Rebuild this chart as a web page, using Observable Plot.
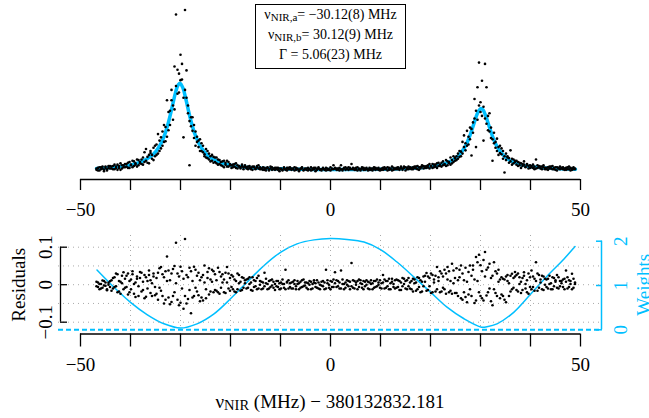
<!DOCTYPE html>
<html><head><meta charset="utf-8">
<script src="https://cdn.jsdelivr.net/npm/d3@7"></script>
<script src="https://cdn.jsdelivr.net/npm/@observablehq/plot@0.6"></script>
<style>
body{margin:0;background:#fff;}
#wrap{position:relative;width:649px;height:418px;overflow:hidden;font-family:"Liberation Serif","Times New Roman",serif;color:#000;}
#wrap svg{position:absolute;left:0;}
.legend{position:absolute;left:255px;top:4px;width:151px;height:65px;box-sizing:border-box;border:1.2px solid #000;text-align:center;font-size:14px;line-height:20px;white-space:nowrap;}
.sub{font-size:11px;position:relative;top:2px;}
.xtitle{position:absolute;left:0;top:390px;width:660px;text-align:center;font-size:19px;line-height:24px;white-space:nowrap;}
.xsub{font-size:14.5px;position:relative;top:2px;}
</style></head><body><div id="wrap"></div>
<script>
// frequency offset (MHz) of each measured point (same grid for both scans)
const freq = [
-46.8,-46.5,-46.2,-45.9,-45.6,-45.3,-45,-44.7,-44.4,-44.1,
-43.8,-43.5,-43.2,-42.9,-42.6,-42.3,-42,-41.7,-41.4,-41.1,
-40.8,-40.5,-40.2,-39.9,-39.6,-39.3,-39,-38.7,-38.4,-38.1,
-37.8,-37.5,-37.2,-36.9,-36.6,-36.3,-36,-35.7,-35.4,-35.1,
-34.8,-34.5,-34.2,-33.9,-33.6,-33.3,-33,-32.7,-32.4,-32.1,
-31.8,-31.5,-31.2,-30.9,-30.6,-30.3,-30,-29.7,-29.4,-29.1,
-28.8,-28.5,-28.2,-27.9,-27.6,-27.3,-27,-26.7,-26.4,-26.1,
-25.8,-25.5,-25.2,-24.9,-24.6,-24.3,-24,-23.7,-23.4,-23.1,
-22.8,-22.5,-22.2,-21.9,-21.6,-21.3,-21,-20.7,-20.4,-20.1,
-19.8,-19.5,-19.2,-18.9,-18.6,-18.3,-18,-17.7,-17.4,-17.1,
-16.8,-16.5,-16.2,-15.9,-15.6,-15.3,-15,-14.7,-14.4,-14.1,
-13.8,-13.5,-13.2,-12.9,-12.6,-12.3,-12,-11.7,-11.4,-11.1,
-10.8,-10.5,-10.2,-9.9,-9.6,-9.3,-9,-8.7,-8.4,-8.1,
-7.8,-7.5,-7.2,-6.9,-6.6,-6.3,-6,-5.7,-5.4,-5.1,
-4.8,-4.5,-4.2,-3.9,-3.6,-3.3,-3,-2.7,-2.4,-2.1,
-1.8,-1.5,-1.2,-0.9,-0.6,-0.3,0,0.3,0.6,0.9,
1.2,1.5,1.8,2.1,2.4,2.7,3,3.3,3.6,3.9,
4.2,4.5,4.8,5.1,5.4,5.7,6,6.3,6.6,6.9,
7.2,7.5,7.8,8.1,8.4,8.7,9,9.3,9.6,9.9,
10.2,10.5,10.8,11.1,11.4,11.7,12,12.3,12.6,12.9,
13.2,13.5,13.8,14.1,14.4,14.7,15,15.3,15.6,15.9,
16.2,16.5,16.8,17.1,17.4,17.7,18,18.3,18.6,18.9,
19.2,19.5,19.8,20.1,20.4,20.7,21,21.3,21.6,21.9,
22.2,22.5,22.8,23.1,23.4,23.7,24,24.3,24.6,24.9,
25.2,25.5,25.8,26.1,26.4,26.7,27,27.3,27.6,27.9,
28.2,28.5,28.8,29.1,29.4,29.7,30,30.3,30.6,30.9,
31.2,31.5,31.8,32.1,32.4,32.7,33,33.3,33.6,33.9,
34.2,34.5,34.8,35.1,35.4,35.7,36,36.3,36.6,36.9,
37.2,37.5,37.8,38.1,38.4,38.7,39,39.3,39.6,39.9,
40.2,40.5,40.8,41.1,41.4,41.7,42,42.3,42.6,42.9,
43.2,43.5,43.8,44.1,44.4,44.7,45,45.3,45.6,45.9,
46.2,46.5,46.8,47.1,47.4,47.7,48,48.3,48.6,48.9];

// measured signal, scan 1 (arbitrary units)
const signal1 = [
1,4,0,5,3,-1,6,2,4,7,
3,7,2,6,9,4,1,8,5,10,
6,12,4,9,15,7,11,17,8,13,
10,20,13,33,12,24,27,18,35,22,
24,56,30,51,38,70,45,108,62,92,
108,78,160,240,118,149,178,140,51,247,
154,88,8,82,61,70,38,52,46,30,
42,28,22,33,19,26,14,24,12,20,
20,9,16,8,14,5,12,15,6,10,
4,9,6,11,3,7,5,9,2,6,
5,2,7,4,1,6,3,5,8,2,
3,1,4,0,5,2,6,1,3,4,
2,4,-1,3,1,5,2,0,4,2,
1,3,0,4,2,-1,3,5,1,2,
3,0,2,5,1,4,-1,2,3,1,
2,4,1,0,3,1,5,2,8,3,
1,3,0,8,2,4,1,3,5,2,
10,2,1,4,0,3,2,5,1,3,
2,0,4,1,3,5,1,2,4,0,
3,1,5,2,0,4,2,6,1,3,
2,5,1,4,3,6,0,4,2,5,
4,2,6,3,7,1,5,8,3,6,
4,8,3,7,10,5,9,4,12,7,
6,14,9,16,8,13,20,11,22,15,
16,26,30,22,44,54,31,61,40,66,
23,74,110,36,128,166,105,138,46,164,
128,62,88,50,15,58,35,49,24,38,
34,18,-3,26,20,12,31,9,17,13,
15,7,12,4,10,14,6,9,3,8,
5,9,2,17,4,7,3,6,8,2,
4,1,6,3,7,2,5,0,4,6,
3,5,1,4,2,6,0,3,5,2];

// measured signal, scan 2 (arbitrary units)
const signal2 = [
3,0,5,2,6,1,4,0,7,3,
6,2,9,4,1,7,11,3,8,5,
10,4,13,8,5,14,9,6,16,11,
17,9,28,15,21,11,30,24,16,38,
40,26,46,34,60,44,67,52,90,70,
124,100,94,130,155,120,139,164,112,124,
112,100,76,68,82,50,60,44,36,48,
30,38,25,20,30,17,22,15,21,13,
11,17,10,13,7,15,9,6,13,8,
8,5,10,4,8,6,3,7,5,8,
3,6,4,2,6,5,2,7,3,5,
2,5,1,3,4,0,3,5,2,1,
4,1,3,2,0,3,1,4,2,5,
3,2,5,1,3,0,2,4,0,3,
1,4,2,0,3,2,4,1,5,2,
0,3,2,4,1,2,0,3,2,4,
3,1,4,2,0,3,5,2,1,4,
2,4,3,1,5,2,0,3,4,1,
4,2,1,3,0,2,4,3,1,2,
1,4,2,3,5,1,3,0,4,2,
4,2,3,6,1,4,5,2,6,3,
2,5,4,6,2,5,3,6,7,4,
7,5,10,6,4,9,6,11,7,9,
12,8,10,7,14,11,9,16,13,19,
22,18,21,29,26,36,42,38,52,48,
64,58,80,92,78,100,90,84,98,80,
72,84,60,66,48,42,44,30,36,27,
25,30,22,16,22,19,14,18,11,15,
9,13,8,11,7,9,5,10,7,4,
7,4,6,3,8,5,6,2,5,4,
2,5,3,6,2,4,1,5,3,2,
4,2,3,1,5,2,4,1,2,3];

// fit residuals, scan 1
const residual1 = [
-.004,.006,-.012,.002,-.008,.010,-.003,-.015,.005,-.006,
.012,-.010,.020,-.004,.028,-.018,.008,.024,-.012,.016,
-.006,.030,-.020,.014,.036,-.024,.006,.022,-.030,.018,
.032,-.014,.026,-.032,.010,.038,-.022,.004,.030,-.028,
.018,-.040,.044,-.016,.028,-.050,.036,.075,-.034,.012,
-.046,.042,-.020,.112,.030,-.055,.048,-.010,-.064,.122,
.026,-.038,.045,-.076,.010,-.030,.040,-.018,.032,-.044,
.020,-.042,.051,-.012,.034,-.026,.014,.040,-.020,.028,
-.016,.045,-.024,.022,.006,-.020,.032,.047,-.010,.018,
.026,-.012,.014,-.020,.030,.004,-.016,.020,-.008,.012,
-.010,.016,.002,-.014,.020,-.006,.010,-.012,.024,.000,
.008,-.010,.032,.004,-.012,.010,-.006,.014,-.008,.002,
-.004,.010,-.012,.006,.002,-.008,.040,.008,-.010,.004,
.006,-.010,.012,-.004,.002,-.012,.008,-.006,.014,-.002,
-.008,.004,.010,-.012,.002,.006,-.006,.012,-.010,.000,
.008,-.004,-.012,.040,.004,-.008,.010,-.006,.014,.033,
-.006,.010,-.010,.038,.002,-.012,.006,.012,-.004,.008,
.058,-.008,.010,.000,-.012,.014,.004,-.008,.010,-.004,
.012,-.010,.006,.002,-.012,.010,-.006,.014,.000,-.008,
.004,.026,-.010,.010,-.004,.016,-.012,.008,.002,-.010,
.014,-.006,.010,-.014,.018,.002,-.010,.012,-.004,.006,
-.012,.016,.004,-.016,.020,-.006,.012,-.018,.022,.008,
.031,-.014,.018,-.022,.026,.006,-.018,.047,.010,-.020,
.030,-.008,.040,-.024,.014,.036,-.016,.056,.004,-.022,
.044,-.030,.020,.051,-.040,.012,-.033,-.047,.034,-.012,
.024,.051,-.049,.074,.010,.080,-.030,.036,-.042,.087,
-.029,.046,-.010,.018,-.055,.060,-.022,.030,.008,-.036,
.020,-.030,.014,-.047,.026,.004,-.018,.029,-.008,.022,
-.014,.030,.002,-.022,.018,.033,-.010,.012,-.024,.020,
.038,-.006,.016,.060,-.016,.026,.006,-.012,.022,.000,
.014,-.010,.024,.004,-.012,.018,.008,-.008,.020,-.004,
.010,-.006,.016,.038,-.010,.012,.002,.029,-.008,.006];

// fit residuals, scan 2
const residual2 = [
.008,-.006,.002,-.010,.011,-.002,.006,-.012,.000,.009,
-.016,.018,-.006,.030,-.020,.010,-.024,.004,.033,-.008,
.024,-.026,.010,-.012,.028,.002,-.033,.016,-.004,.034,
-.018,.008,-.036,.020,-.010,.026,.012,-.030,.022,-.006,
-.024,.032,-.008,.047,-.030,.020,-.040,.010,.038,-.052,
.030,-.030,.050,.004,-.040,.022,-.048,.036,.016,-.030,
-.050,.020,-.014,.036,-.034,.048,-.008,.024,-.028,.012,
-.034,.026,.006,-.036,.018,.044,-.018,.008,.036,-.014,
.012,-.020,.034,-.008,.028,.014,-.022,.006,.030,-.016,
-.006,.022,-.018,.010,-.012,.026,.008,-.014,.018,.004,
.014,-.008,.020,.006,-.016,.012,-.004,.018,-.010,.010,
-.012,.006,-.004,.016,.002,-.010,.012,-.002,.008,-.014,
.010,-.006,.004,-.010,.014,.002,-.012,.006,.012,-.006,
-.010,.008,.002,-.012,.010,.004,-.008,.012,-.004,.006,
.006,-.012,.000,.008,-.010,.012,.004,-.008,.006,-.012,
-.002,.010,.006,-.010,.012,.000,-.012,.008,-.006,.004,
.012,-.004,.006,-.010,.014,.002,-.008,.000,.010,-.012,
-.004,.012,-.010,.006,.010,-.006,.012,.002,-.012,.008,
.000,.008,-.012,.012,.004,-.008,.010,-.004,.006,.012,
-.010,.006,.014,-.008,.010,-.012,.004,.016,-.006,.012,
-.008,.012,-.014,.006,-.004,.016,.010,-.012,.018,-.010,
.010,-.018,.014,.006,-.012,.018,-.020,.008,-.004,.024,
-.016,.022,-.004,.030,-.020,.014,.024,-.012,.020,.036,
-.018,.022,-.012,.030,.047,-.020,.010,-.024,.038,.018,
-.022,.012,.040,-.036,.030,-.020,.045,.008,-.026,.051,
-.030,.040,.014,-.042,.060,-.020,.052,-.036,.066,.022,
.040,-.020,.056,-.044,.024,-.012,.036,-.030,.040,.014,
-.026,.016,-.040,.022,.010,-.030,.024,-.012,.018,.034,
.026,-.018,.020,.008,-.014,.024,.002,-.020,.030,-.006,
-.012,.022,-.016,.010,.030,-.008,.014,.024,-.014,.016,
-.006,.016,.002,-.012,.020,-.004,.012,.026,-.010,.010,
.004,.014,-.012,.008,.020,-.006,.010,-.012,.016,.002];

// fitted curve
const fitFreq = [-46.8,-44,-42,-40,-38,-36,-35,-34,-33.5,-33,-32.5,-32,-31.5,-31,-30.5,-30.12,-29.5,-29,-28.5,-28,-27.5,-27,-26,-25,-24,-22,-20,-17,-14,-10,-5,0,5,10,14,17,20,22,24,25,26,27,27.5,28,28.5,29,29.5,30.12,30.5,31,31.5,32,32.5,33,33.5,34,35,36,38,40,42,44,46,49];
const fitSignal = [3.2,4.5,6.0,8.5,12.8,21.2,28.7,40.3,48.4,58.7,71.4,86.6,103.6,119.8,131.3,134.3,126.7,112.3,95.3,79.0,65.0,53.5,37.0,26.6,19.9,12.2,8.2,5.1,3.5,2.5,1.8,1.6,1.6,2.0,2.7,3.8,5.9,8.7,14.2,18.9,26.3,38.0,46.1,56.1,67.7,79.7,89.9,95.3,93.2,85.0,73.5,61.5,50.7,41.7,34.4,28.6,20.4,15.1,9.1,6.1,4.4,3.3,2.6,1.9];

// weights curve
const weightFreq = [-46.7,-43.3,-40,-36.7,-33.3,-30,-26.7,-23.3,-20,-16.7,-13.3,-10,-6.7,-3.3,0,3.3,6.7,10,13.3,16.7,20,23.3,26.7,30.2,31.3,33.3,36.7,40,43.3,46.7,48.9];
const weight = [1.35,0.96,0.62,0.345,0.135,0.04,0.135,0.36,0.70,1.075,1.45,1.75,1.94,2.03,2.06,2.04,1.98,1.81,1.53,1.19,0.85,0.51,0.25,0.06,0.07,0.135,0.40,0.80,1.21,1.60,1.88];

// ticks and labels
const xTicks = [-50,-40,-30,-20,-10,0,10,20,30,40,50];
const xTickLabels = [-50,0,50];
const xGrid = [-40,-30,-20,-10,0,10,20,30,40];
const residualTicks = [-0.1,0,0.1];
const residualGrid = [-0.1,-0.05,0,0.05,0.1];
const weightTicks = [0,1,2];
const legendSymbol = ["ν","ν","Γ"];
const legendSub = ["NIR,a","NIR,b",""];
const legendValue = ["= −30.12(8) MHz","= 30.12(9) MHz"," = 5.06(23) MHz"];
const xTitle = ["ν","NIR"," (MHz) − 380132832.181"];
const yTitle = "Residuals";
const y2Title = "Weights";

[signal1, signal2, residual1, residual2].forEach((a, k) => {
  if (a.length !== freq.length) throw new Error("length mismatch in array " + k + ": " + a.length + " vs " + freq.length);
});

const cyan = "#00BFFF";
const font = '"Liberation Serif","Times New Roman",serif';
const fmt = d => d < 0 ? "\u2212" + Math.abs(d) : String(d);
const lab = d => xTickLabels.includes(d) ? fmt(d) : "";

const points = freq.flatMap((f, i) => [
  {f, s: signal1[i], r: residual1[i]},
  {f, s: signal2[i], r: residual2[i]}
]);
const fit = fitFreq.map((f, i) => ({f, s: fitSignal[i]}));
const wdata = weightFreq.map((f, i) => ({f, w: weight[i]}));

const topY = [-13.85, 261.5];
const resY = [-0.1315, 0.1312];
const wY = [-0.0948, 2.1287];
const botX = [-54.4, 54.4];

const wrap = document.getElementById("wrap");

const topPlot = Plot.plot({
  width: 649, height: 222, marginTop: 0, marginBottom: 43, marginLeft: 80, marginRight: 69,
  style: {fontFamily: font, background: "transparent", overflow: "visible", color: "#000"},
  x: {domain: [-50, 50], label: null},
  y: {domain: topY, axis: null, label: null},
  marks: [
    Plot.line(fit, {x: "f", y: "s", stroke: cyan, strokeWidth: 3.5, curve: "catmull-rom"}),
    Plot.dot(points, {x: "f", y: "s", r: 1.3, fill: "#000"}),
    Plot.ruleY([topY[0]], {strokeWidth: 1.3}),
    Plot.axisX({ticks: xTicks, tickSize: 11, tickPadding: 12, tickFormat: lab, fontSize: 19, strokeWidth: 1.3, label: null})
  ]
});
topPlot.style.top = "0px";

const wPlot = Plot.plot({
  width: 649, height: 198, marginTop: 15, marginBottom: 84.5, marginLeft: 58, marginRight: 47,
  style: {fontFamily: font, background: "transparent", overflow: "visible"},
  x: {domain: botX, axis: null, label: null},
  y: {domain: wY, axis: null, label: null},
  marks: [
    Plot.ruleY([0], {stroke: cyan, strokeWidth: 2, strokeDasharray: "5,3"}),
    Plot.line(wdata, {x: "f", y: "w", stroke: cyan, strokeWidth: 1.5, curve: "catmull-rom"}),
    Plot.ruleX([botX[1]], {y1: weightTicks[0], y2: weightTicks[2], dx: -1, stroke: cyan, strokeWidth: 1.5}),
    Plot.axisY({anchor: "right", ticks: weightTicks, tickSize: -6, dx: -1, color: cyan, strokeWidth: 1.5, tickFormat: () => "", label: null}),
    Plot.text(weightTicks, {y: d => d, frameAnchor: "right", text: d => String(d), rotate: -90, textAnchor: "middle", dx: 18, fill: cyan, fontSize: 19}),
    Plot.text([y2Title], {frameAnchor: "right", text: d => d, rotate: -90, textAnchor: "middle", dx: 41, fill: cyan, fontSize: 19})
  ]
});
wPlot.style.top = "220px";

const rPlot = Plot.plot({
  width: 649, height: 198, marginTop: 15, marginBottom: 84.5, marginLeft: 58, marginRight: 47,
  style: {fontFamily: font, background: "transparent", overflow: "visible", color: "#000"},
  x: {domain: botX, label: null},
  y: {domain: resY, label: null},
  marks: [
    Plot.gridY({ticks: residualGrid, stroke: "#aaa", strokeOpacity: 1, strokeDasharray: "1,4"}),
    Plot.gridX({ticks: xGrid, stroke: "#aaa", strokeOpacity: 1, strokeDasharray: "1,4", insetBottom: 6}),
    Plot.dot(points, {x: "f", y: "r", r: 1.3, fill: "#000"}),
    Plot.ruleX([botX[0]], {y1: residualTicks[0], y2: residualTicks[2], dx: 2, strokeWidth: 1.3}),
    Plot.axisY({anchor: "left", ticks: residualTicks, tickSize: -7, dx: 2, strokeWidth: 1.3, tickFormat: () => "", label: null}),
    Plot.text(residualTicks, {y: d => d, frameAnchor: "left", text: fmt, rotate: -90, textAnchor: "middle", dx: -12.5, fontSize: 19}),
    Plot.text([yTitle], {frameAnchor: "left", text: d => d, rotate: -90, textAnchor: "middle", dx: -39.5, fontSize: 19}),
    Plot.ruleY([resY[0]], {x1: xTicks[0], x2: xTicks[xTicks.length - 1], strokeWidth: 1.3}),
    Plot.axisX({ticks: xTicks, tickSize: 13, tickPadding: 10, tickFormat: lab, fontSize: 19, strokeWidth: 1.3, label: null})
  ]
});
rPlot.style.top = "220px";

wrap.appendChild(wPlot);
wrap.appendChild(rPlot);
wrap.appendChild(topPlot);

// legend box
const legend = document.createElement("div");
legend.className = "legend";
legendSymbol.forEach((s, i) => {
  const line = document.createElement("div");
  line.append(s);
  if (legendSub[i]) {
    const sub = document.createElement("span");
    sub.className = "sub";
    sub.textContent = legendSub[i];
    line.append(sub);
  }
  line.append(legendValue[i]);
  legend.append(line);
});
wrap.appendChild(legend);

// x title
const xt = document.createElement("div");
xt.className = "xtitle";
xt.append(xTitle[0]);
const xs = document.createElement("span");
xs.className = "xsub";
xs.textContent = xTitle[1];
xt.append(xs);
xt.append(xTitle[2]);
wrap.appendChild(xt);
</script>
</body></html>
